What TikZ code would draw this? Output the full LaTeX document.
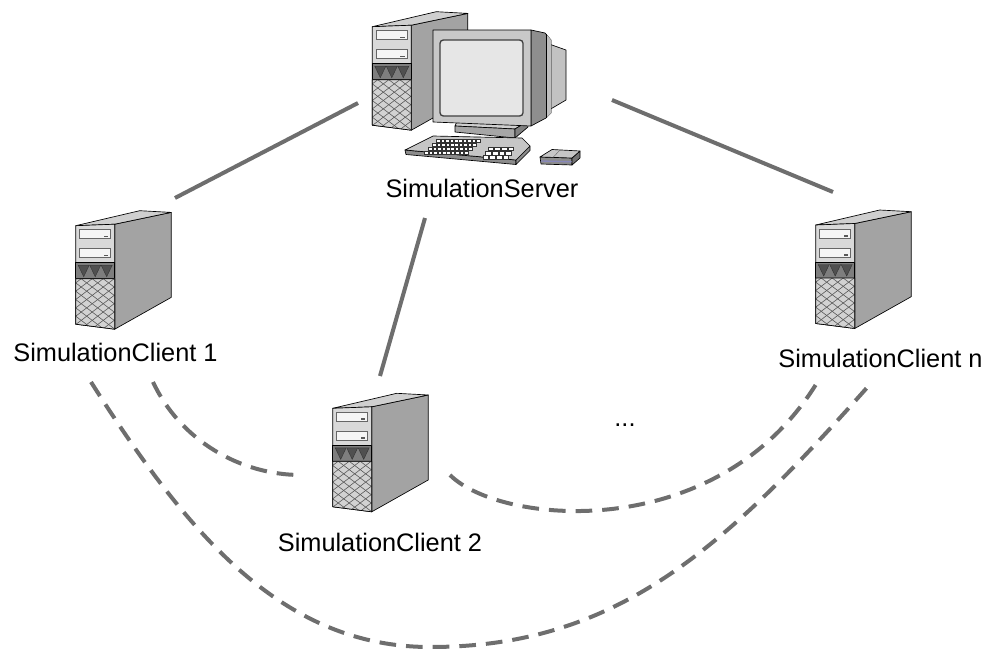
\documentclass[tikz,border=0pt]{standalone}
\usepackage{fontspec}
\setmainfont{Liberation Sans}
\definecolor{linkgray}{HTML}{6E6E6E}
\definecolor{sidegray}{HTML}{A3A3A3}
\definecolor{topgray}{HTML}{CFCFCF}
\definecolor{frontgray}{HTML}{D9D9D9}
\definecolor{bandgray}{HTML}{7E7E7E}
\definecolor{triangray}{HTML}{505050}
\definecolor{grillegray}{HTML}{D2D2D2}
\definecolor{bezelgray}{HTML}{C8C8C8}
\definecolor{screengray}{HTML}{E6E6E6}
\definecolor{monside}{HTML}{8E8E8E}
\definecolor{monback}{HTML}{C2C2C2}
\definecolor{kbtop}{HTML}{C6C6C6}
\definecolor{kbfront}{HTML}{8C8C8C}
\definecolor{mouseline}{HTML}{8888BB}
\tikzset{
  outl/.style={draw=black,line width=0.5pt,line join=round},
  link/.style={draw=linkgray,line width=3pt},
  peer/.style={link,dash pattern=on 12.5pt off 7.5pt},
  lbl/.style={font=\fontsize{19}{23}\selectfont,inner sep=0pt,anchor=base},
  keycap/.style={draw=black!80,line width=0.3pt,fill=white},
  % a tower case; the origin is the top-left corner of its front panel
  tower/.pic={
    \path[outl,fill=sidegray] (39,-1.5) -- (95.5,-13.3) -- (95.5,71.7) -- (39,103.5) -- cycle;
    \path[outl,fill=topgray] (0,0) -- (64,-15) -- (95.5,-13.3) -- (39,-1.5) -- cycle;
    \path[outl,fill=frontgray] (0,0) -- (39,-1.5) -- (39,103.5) -- (0,98.5) -- cycle;
    % drive bays
    \foreach \yy in {4,23}{
      \path[draw=black!60,line width=0.4pt,fill=black!4] (4,\yy) rectangle (35,\yy+9);
      \path[fill=black!65] (28,\yy+6) rectangle (32.5,\yy+7.6);
    }
    % vent band
    \path[outl,fill=bandgray] (0,37) rectangle (39,53);
    \foreach \xx in {2.5,14,25.5}{
      \path[fill=triangray,draw=black!80,line width=0.3pt] (\xx,39.5) -- (\xx+11,39.5) -- (\xx+5.5,51) -- cycle;
    }
    % grille
    \begin{scope}
      \path[clip] (0,53) -- (39,53) -- (39,103.5) -- (0,98.5) -- cycle;
      \path[fill=grillegray] (-1,52) rectangle (40,105);
      \foreach \ii in {-7,...,11}{
        \draw[black!65,line width=0.45pt] (\ii*11+5.5,53) -- ++(66,50);
        \draw[black!65,line width=0.45pt] (\ii*11+5.5,53) -- ++(-66,50);
      }
    \end{scope}
    \path[outl] (0,53) -- (39,53) -- (39,103.5) -- (0,98.5) -- cycle;
  }
}
\begin{document}
\begin{tikzpicture}[x=0.75pt,y=-0.75pt]
\useasboundingbox (0,0) rectangle (992,653);

% connectors from the server
\coordinate (s1) at (358,103); \coordinate (c1top) at (175,198);
\coordinate (s2) at (425,218); \coordinate (c2top) at (380,376);
\coordinate (s3) at (612,100); \coordinate (cntop) at (833,192);
\draw[link] (s1) -- (c1top);
\draw[link] (s2) -- (c2top);
\draw[link] (s3) -- (cntop);

% peer connections between clients
\coordinate (c1a) at (153,382); \coordinate (c2l) at (301,475);
\coordinate (c2r) at (450,475); \coordinate (cna) at (815.6,385);
\coordinate (c1b) at (91,382); \coordinate (low) at (430,647); \coordinate (cnb) at (872,382);
\draw[peer] (c1a) .. controls (180,440) and (240,475) .. (c2l);
\draw[peer] (c2r) .. controls (500,525) and (715,545) .. (cna);
\draw[peer] (c1b) .. controls (185,530) and (280,647) .. (low)
            .. controls (615,647) and (722,551.5) .. (cnb);

% client machines
\pic at (75.7,225.7) {tower};
\pic at (332.7,408.3) {tower};
\pic at (815.7,225) {tower};

% server: tower, monitor, keyboard and mouse
\pic at (372.3,26.7) {tower};
\path[outl,fill=monback] (549,44) -- (566,50) -- (566,100) -- (549,110) -- cycle;
\path[outl,fill=monside] (531,30) -- (545,33) -- (551,40) -- (551,113) -- (546,118) -- (531,126) -- cycle;
\path[fill=black!25] (546.5,34.5) -- (551,40) -- (551,113) -- (546.5,117.5) -- cycle;
\draw[line width=0.5pt] (546.5,34) -- (546.5,118);
\path[outl,fill=topgray] (458,119) -- (528,121) -- (515,129) -- (455,126) -- cycle;
\path[outl,fill=black!35] (455,126) -- (515,129) -- (515,138) -- (455,132) -- cycle;
\path[outl,fill=black!50] (515,129) -- (528,121) -- (528,127) -- (515,138) -- cycle;
\path[outl,fill=bezelgray] (433,30) -- (531,30) -- (531,126) -- (433,122) -- cycle;
\path[draw=black!75,line width=1pt,fill=screengray,rounded corners=2.5pt] (440,40) rectangle (523,116);

\path[outl,fill=kbfront] (405,150) -- (516,160) -- (516,164.5) -- (406,154.5) -- cycle;
\path[outl,fill=kbfront] (516,160) -- (530,146) -- (530,150.5) -- (516,164.5) -- cycle;
\path[outl,fill=kbtop] (405,150) -- (433,136) -- (522,138) -- (530,146) -- (516,160) -- cycle;
\foreach \r in {0,...,3}{
  \foreach \c in {0,...,9}{
    \path[keycap] (436.5-4*\r+4.4*\c,139.5+3.9*\r) rectangle ++(3.7,3);
  }
}
\foreach \r in {0,...,2}{
  \foreach \c in {0,...,3}{
    \path[keycap] (488-2.5*\r+6.6*\c,147+4.3*\r) rectangle ++(5.6,3.4);
  }
}

\path[outl,fill=kbfront] (540,157) -- (572,158) -- (572,165) -- (541,164) -- cycle;
\path[outl,fill=black!55] (572,158) -- (580,151) -- (580,158) -- (572,165) -- cycle;
\path[outl,fill=kbtop] (540,157) -- (552,149.5) -- (580,151) -- (572,158) -- cycle;
\draw[black!60,line width=0.3pt] (560,150) -- (553,157.5);
\draw[mouseline,line width=1pt] (541,161) -- (571.5,161.8);

% labels
\node[lbl] (srv) at (482,197) {SimulationServer};
\node[lbl] (cl1) at (115.5,361.5) {SimulationClient 1};
\node[lbl] (cl2) at (380,551) {SimulationClient 2};
\node[lbl] (cln) at (880.5,367) {SimulationClient n};
\node[lbl] (more) at (625,426) {...};
\end{tikzpicture}
\end{document}
